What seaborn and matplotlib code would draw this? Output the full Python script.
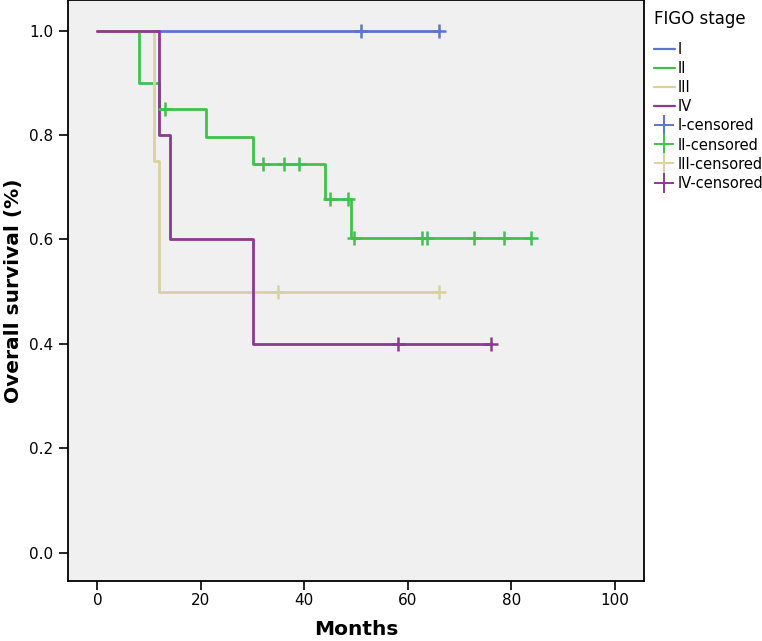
import matplotlib.pyplot as plt
from matplotlib.lines import Line2D
import numpy as np
import pandas as pd
import seaborn as sns

stages = ["I", "II", "III", "IV"]
colors = ["#5b74cc", "#3ec24c", "#d8d2a0", "#8c3a8f"]

# step curves: event times and survival after each step
event_times = {
    "I": [0, 66],
    "II": [0, 8, 12, 21, 30, 44, 49, 84],
    "III": [0, 11, 12, 66],
    "IV": [0, 12, 14, 30, 76],
}
survival = {
    "I": [1.0, 1.0],
    "II": [1.0, 0.90, 0.85, 0.797, 0.744, 0.677, 0.602, 0.602],
    "III": [1.0, 0.75, 0.50, 0.50],
    "IV": [1.0, 0.80, 0.60, 0.40, 0.40],
}
censored = {
    "I": [51, 66],
    "II": [13, 32, 36, 39, 45, 48.5, 49.6, 62.7, 63.7, 72.7, 78.6, 83.7],
    "III": [35, 66],
    "IV": [58, 76],
}

rows = []
for s in stages:
    for t, v in zip(event_times[s], survival[s]):
        rows.append({"stage": s, "time": t, "surv": v})
curves = pd.DataFrame(rows)

crows = []
for s in stages:
    t_arr = np.array(event_times[s])
    v_arr = np.array(survival[s])
    for c in censored[s]:
        idx = np.searchsorted(t_arr, c, side="right") - 1
        crows.append({"stage": s, "time": c, "surv": v_arr[idx]})
cens = pd.DataFrame(crows)

sns.set_style("ticks")
plt.rcParams["text.color"] = "black"
plt.rcParams["axes.labelcolor"] = "black"
fig = plt.figure(figsize=(7.62, 6.41), dpi=100)
ax = fig.add_axes([0.089, 0.094, 0.756, 0.906])
ax.set_facecolor("#f0f0f0")

palette = dict(zip(stages, colors))
for s in stages:
    d = curves[curves["stage"] == s]
    sns.lineplot(data=d, x="time", y="surv", color=palette[s], drawstyle="steps-post",
                 linewidth=2, ax=ax, legend=False, estimator=None, sort=False)
for s in stages:
    d = cens[cens["stage"] == s]
    ax.scatter(d["time"], d["surv"], marker="+", s=110, color=palette[s], linewidths=1.8, zorder=3)

ax.set_xlim(-5.7, 105.6)
ax.set_ylim(-0.054, 1.059)
ax.set_xticks([0, 20, 40, 60, 80, 100])
ax.set_yticks([0.0, 0.2, 0.4, 0.6, 0.8, 1.0])
ax.set_yticklabels(["0.0", "0.2", "0.4", "0.6", "0.8", "1.0"])
ax.tick_params(labelsize=11, length=6.5, width=1.2, colors="black")
ax.tick_params(axis="y", pad=4)
ax.tick_params(axis="x", pad=2)
for sp in ax.spines.values():
    sp.set_color("black")
    sp.set_linewidth(1.3)

ax.set_xlabel("Months", fontsize=14.5, fontweight="bold", labelpad=9)
ax.set_ylabel("Overall survival (%)", fontsize=14.5, fontweight="bold", labelpad=4)

handles = [Line2D([0], [0], color=c, lw=1.6) for c in colors]
handles += [Line2D([0], [0], color=c, lw=0, marker="+", markersize=14, markeredgewidth=1.4) for c in colors]
labels = stages + [f"{s}-censored" for s in stages]
leg = fig.legend(handles, labels, title="FIGO stage", loc="upper left",
                 bbox_to_anchor=(0.845, 1.0), frameon=False, fontsize=10.5,
                 title_fontsize=12, handlelength=1.4, handletextpad=0.2,
                 labelspacing=0.28, borderaxespad=0.3)
leg._legend_box.align = "left"
leg._legend_box.sep = 10

fig.savefig("out.png", dpi=100)
